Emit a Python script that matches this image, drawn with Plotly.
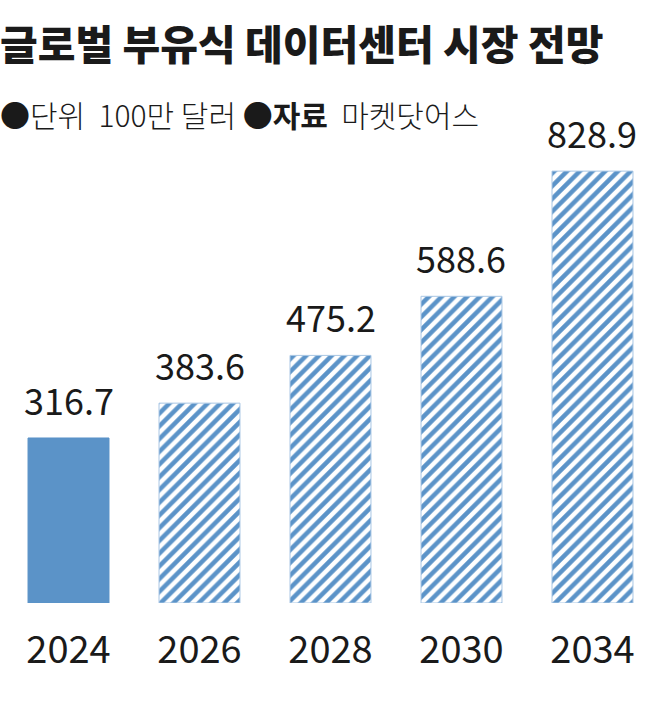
"""Global floating data center market outlook - bar chart."""

import plotly.graph_objects as go

years = ["2024", "2026", "2028", "2030", "2034"]
market_size = [316.7, 383.6, 475.2, 588.6, 828.9]
bar_patterns = ["", "/", "/", "/", "/"]

title_text = "글로벌 부유식 데이터센터 시장 전망"
subtitle_text = "●단위  100만 달러 ●<b>자료</b>  마켓닷어스"

BLUE = "#5B93C8"
FONT = "Noto Sans CJK KR"

fig = go.Figure(go.Bar(
    x=years, y=market_size,
    marker=dict(
        color=BLUE,
        line=dict(color=[BLUE] + ["#a8c6e4"] * 4, width=1),
        pattern=dict(shape=bar_patterns, size=9, solidity=0.5,
                     fgcolor=BLUE, bgcolor="white", fillmode="replace"),
    ),
    hovertemplate="%{x}: %{y}<extra></extra>",
))

# value labels above each bar (x given as category index)
for i, v in enumerate(market_size):
    fig.add_annotation(x=i, y=v, text=f"{v:.1f}", showarrow=False,
                       yanchor="bottom", yshift=11,
                       font=dict(family=FONT, size=36, color="#1a1a1a"))

fig.add_annotation(xref="paper", yref="paper", x=0, y=1, xanchor="left", yanchor="middle",
                   xshift=-2, yshift=98, text=title_text, showarrow=False,
                   font=dict(family=FONT, size=41, weight=900, color="#1a1a1a"))
fig.add_annotation(xref="paper", yref="paper", x=0, y=1, xanchor="left", yanchor="middle",
                   xshift=-2, yshift=26, text=subtitle_text, showarrow=False,
                   font=dict(family=FONT, size=30, weight=300, color="#1a1a1a"))

fig.update_layout(
    width=661, height=718,
    margin=dict(l=0, r=0, t=140, b=115, autoexpand=False),
    paper_bgcolor="white", plot_bgcolor="white",
    bargap=0.382, showlegend=False,
    xaxis=dict(type="category", range=[-0.523, 4.523], automargin=False,
               showline=False, showgrid=False, ticks="", ticklabelstandoff=21,
               tickfont=dict(family=FONT, size=38, color="#1a1a1a")),
    yaxis=dict(visible=False, automargin=False, range=[0, 888.6]),
)

fig.write_html("out.html", config={"displayModeBar": False},
               post_script="document.body.style.margin='0';")
